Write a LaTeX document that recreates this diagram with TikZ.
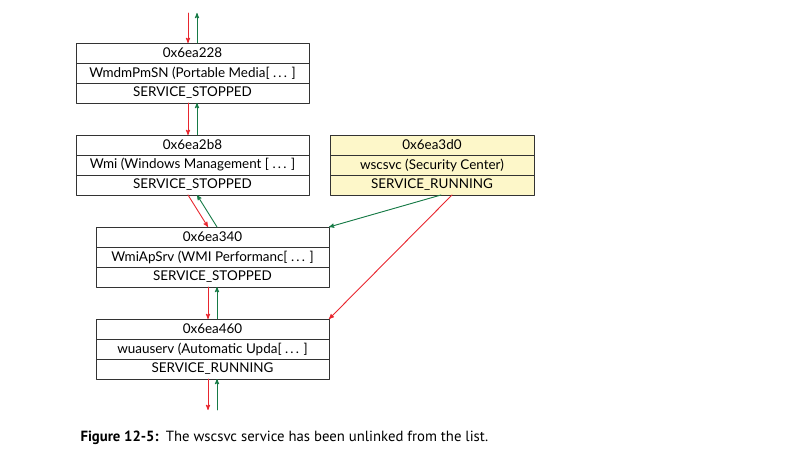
\documentclass[tikz,border=0pt]{standalone}
\usepackage{fontspec}
\setmainfont{Lato}
\newfontfamily\capfont{PT Sans}
\usetikzlibrary{arrows}
\usetikzlibrary{positioning}
\definecolor{linkred}{RGB}{232,38,46}
\definecolor{linkgreen}{RGB}{22,122,70}
\definecolor{boxline}{RGB}{51,51,51}
\definecolor{runfill}{RGB}{253,247,201}
\tikzset{
  cell/.style={draw=boxline,line width=0.9bp,minimum height=20bp,inner sep=0pt,outer sep=0pt,font=\fontsize{13.5}{15}\selectfont},
  flink/.style={->,color=linkred,line width=0.9bp},
  blink/.style={->,color=linkgreen,line width=0.9bp}
}
\begin{document}
\begin{tikzpicture}[line cap=round,line join=round,>=stealth',x=1bp,y=-1bp]
  \useasboundingbox (0,0) rectangle (797,471);
  % service records
  \foreach \n/\x/\y/\w/\bg/\addr/\name/\state in {
    sA/192.5/53/233/white/0x6ea228/{WmdmPmSN (Portable Media[ .\,.\,. ]}/SERVICE\_STOPPED,
    sB/192.5/145/233/white/0x6ea2b8/{Wmi (Windows Management [ .\,.\,. ]}/SERVICE\_STOPPED,
    sY/432/145/204/runfill/0x6ea3d0/{wscsvc (Security Center)}/SERVICE\_RUNNING,
    sC/212.5/237/233/white/0x6ea340/{WmiApSrv (WMI Performanc[ .\,.\,. ]}/SERVICE\_STOPPED,
    sD/212.5/329/233/white/0x6ea460/{wuauserv (Automatic Upda[ .\,.\,. ]}/SERVICE\_RUNNING}
  {
    \node[cell,fill=\bg,minimum width=\w bp] (\n-a) at (\x,\y) {\addr};
    \node[cell,fill=\bg,minimum width=\w bp,below=0pt of \n-a] (\n-b) {\name};
    \node[cell,fill=\bg,minimum width=\w bp,below=0pt of \n-b] (\n-c) {\state};
  }
  % free ends
  \coordinate (inR) at (188,13);
  \coordinate (inG) at (197,13);
  \coordinate (outR) at (208,410);
  \coordinate (outG) at (217,410);
  % forward links
  \draw[flink] (inR) -- (inR |- sA-a.north);
  \draw[flink] ([xshift=-4.5bp]sA-c.south) -- ([xshift=-4.5bp]sB-a.north);
  \draw[flink] ([xshift=-4.5bp]sB-c.south) -- ([xshift=-4.5bp]sC-a.north);
  \draw[flink] ([xshift=-4.5bp]sC-c.south) -- ([xshift=-4.5bp]sD-a.north);
  \draw[flink] (outR |- sD-c.south) -- (outR);
  \draw[flink] ([xshift=20bp]sY-c.south) -- (sD-a.north east);
  % backward links
  \draw[blink] (inG |- sA-a.north) -- (inG);
  \draw[blink] ([xshift=4.5bp]sB-a.north) -- ([xshift=4.5bp]sA-c.south);
  \draw[blink] ([xshift=4.5bp]sC-a.north) -- ([xshift=4.5bp]sB-c.south);
  \draw[blink] ([xshift=4.5bp]sD-a.north) -- ([xshift=4.5bp]sC-c.south);
  \draw[blink] (outG) -- (outG |- sD-c.south);
  \draw[blink] ([xshift=9bp]sY-c.south) -- (sC-a.north east);
  % caption
  \node[anchor=base west,font=\capfont\fontsize{14.8}{17}\selectfont] (caption) at (77,441)
    {\textbf{Figure 12-5:}\enspace The wscsvc service has been unlinked from the list.};
\end{tikzpicture}
\end{document}
